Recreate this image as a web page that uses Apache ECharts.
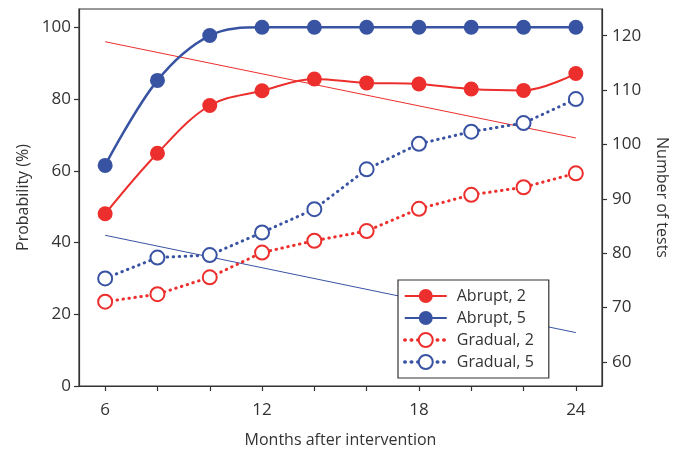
<!DOCTYPE html>
<html>
<head>
<meta charset="utf-8">
<script src="https://cdn.jsdelivr.net/npm/echarts@6/dist/echarts.min.js"></script>
<style>
  html, body { margin: 0; padding: 0; background: #fff; }
  #chart { width: 683px; height: 453px; }
</style>
</head>
<body>
<div id="chart"></div>
<script>
// Months after intervention
const months = [6, 8, 10, 12, 14, 16, 18, 20, 22, 24];

// Probability (%) by scenario
const abrupt2 = [48.0, 64.9, 78.2, 82.3, 85.6, 84.5, 84.2, 82.8, 82.4, 87.1];
const abrupt5 = [61.5, 85.2, 97.7, 100, 100, 100, 100, 100, 100, 100];
const gradual2 = [23.5, 25.6, 30.3, 37.2, 40.5, 43.2, 49.4, 53.3, 55.4, 59.3];
const gradual5 = [30.0, 35.8, 36.5, 42.8, 49.3, 60.4, 67.5, 70.9, 73.3, 80.0];

// Number of tests, straight trend lines (start and end month)
const trendMonths = [6, 24];
const tests2 = [118.9, 101.2];
const tests5 = [83.3, 65.4];

// Tick labels
const monthTicks = [6, 8, 10, 12, 14, 16, 18, 20, 22, 24];
const monthLabels = [6, 12, 18, 24];
const probTicks = [0, 20, 40, 60, 80, 100];
const testTicks = [60, 70, 80, 90, 100, 110, 120];

const RED = '#ec2f2d';
const BLUE = '#3953a3';
const INK = '#333333';
const FONT = 'Open Sans';
const DOTS = [0.5, 5.5];

const pairs = (xs, ys) => xs.map((x, i) => [x, ys[i]]);

const chart = echarts.init(document.getElementById('chart'), null, { renderer: 'canvas' });

const axisBase = {
  type: 'value',
  axisLine: { show: true, lineStyle: { color: INK, width: 1.2 } },
  axisTick: { show: true, inside: false, length: 5, lineStyle: { color: INK, width: 1.2 } },
  splitLine: { show: false },
  axisLabel: { color: INK, fontFamily: FONT, fontSize: 17 },
  nameTextStyle: { color: INK, fontFamily: FONT, fontSize: 16 }
};

chart.setOption({
  animation: false,
  backgroundColor: '#fff',
  grid: {
    left: 79, top: 9, right: 81, bottom: 67,
    show: true, borderColor: INK, borderWidth: 1.2, backgroundColor: 'transparent'
  },
  legend: {
    data: [
      { name: 'Abrupt, 2' },
      { name: 'Abrupt, 5' },
      { name: 'Gradual, 2', lineStyle: { width: 3.5, type: [0.5, 6], cap: 'round' } },
      { name: 'Gradual, 5', lineStyle: { width: 3.5, type: [0.5, 6], cap: 'round' } }
    ],
    orient: 'vertical',
    left: 398, top: 280,
    itemWidth: 42, itemHeight: 17.5, itemGap: 6,
    padding: [8, 15, 8, 5],
    borderColor: INK, borderWidth: 1.2,
    backgroundColor: '#fff',
    textStyle: { color: INK, fontFamily: FONT, fontSize: 16, padding: [0, 0, 0, 5] }
  },
  xAxis: Object.assign({}, axisBase, {
    min: 5, max: 25,
    axisTick: Object.assign({}, axisBase.axisTick, { customValues: monthTicks }),
    axisLabel: Object.assign({}, axisBase.axisLabel, { customValues: monthLabels, margin: 16 }),
    name: 'Months after intervention',
    nameLocation: 'middle',
    nameGap: 46
  }),
  yAxis: [
    Object.assign({}, axisBase, {
      position: 'left',
      min: 0, max: 105.1,
      axisTick: Object.assign({}, axisBase.axisTick, { customValues: probTicks }),
      axisLabel: Object.assign({}, axisBase.axisLabel, { customValues: probTicks, margin: 8 }),
      name: 'Probability (%)',
      nameLocation: 'middle',
      nameGap: 48
    }),
    Object.assign({}, axisBase, {
      position: 'right',
      min: 55.58, max: 124.92,
      axisTick: Object.assign({}, axisBase.axisTick, { customValues: testTicks }),
      axisLabel: Object.assign({}, axisBase.axisLabel, { customValues: testTicks, margin: 10 }),
      name: 'Number of tests',
      nameLocation: 'middle',
      nameRotate: -90,
      nameGap: 52
    })
  ],
  series: [
    {
      name: 'tests2', type: 'line', yAxisIndex: 1, z: 1,
      data: pairs(trendMonths, tests2), showSymbol: false, symbol: 'none',
      lineStyle: { color: RED, width: 1 }, silent: true
    },
    {
      name: 'tests5', type: 'line', yAxisIndex: 1, z: 1,
      data: pairs(trendMonths, tests5), showSymbol: false, symbol: 'none',
      lineStyle: { color: BLUE, width: 1 }, silent: true
    },
    {
      name: 'Gradual, 2', type: 'line', yAxisIndex: 0, z: 2,
      data: pairs(months, gradual2),
      symbol: 'emptyCircle', symbolSize: 14,
      itemStyle: { color: RED, borderColor: RED, borderWidth: 2 },
      lineStyle: { color: RED, width: 3, type: DOTS, cap: 'round' }
    },
    {
      name: 'Gradual, 5', type: 'line', yAxisIndex: 0, z: 2,
      data: pairs(months, gradual5),
      symbol: 'emptyCircle', symbolSize: 14,
      itemStyle: { color: BLUE, borderColor: BLUE, borderWidth: 2 },
      lineStyle: { color: BLUE, width: 3, type: DOTS, cap: 'round' }
    },
    {
      name: 'Abrupt, 2', type: 'line', yAxisIndex: 0, z: 3,
      data: pairs(months, abrupt2),
      smooth: 0.35,
      symbol: 'circle', symbolSize: 15,
      itemStyle: { color: RED },
      lineStyle: { color: RED, width: 2 }
    },
    {
      name: 'Abrupt, 5', type: 'line', yAxisIndex: 0, z: 3,
      data: pairs(months, abrupt5),
      smooth: 0.35,
      symbol: 'circle', symbolSize: 15,
      itemStyle: { color: BLUE },
      lineStyle: { color: BLUE, width: 2.5 }
    }
  ]
});
</script>
</body>
</html>
